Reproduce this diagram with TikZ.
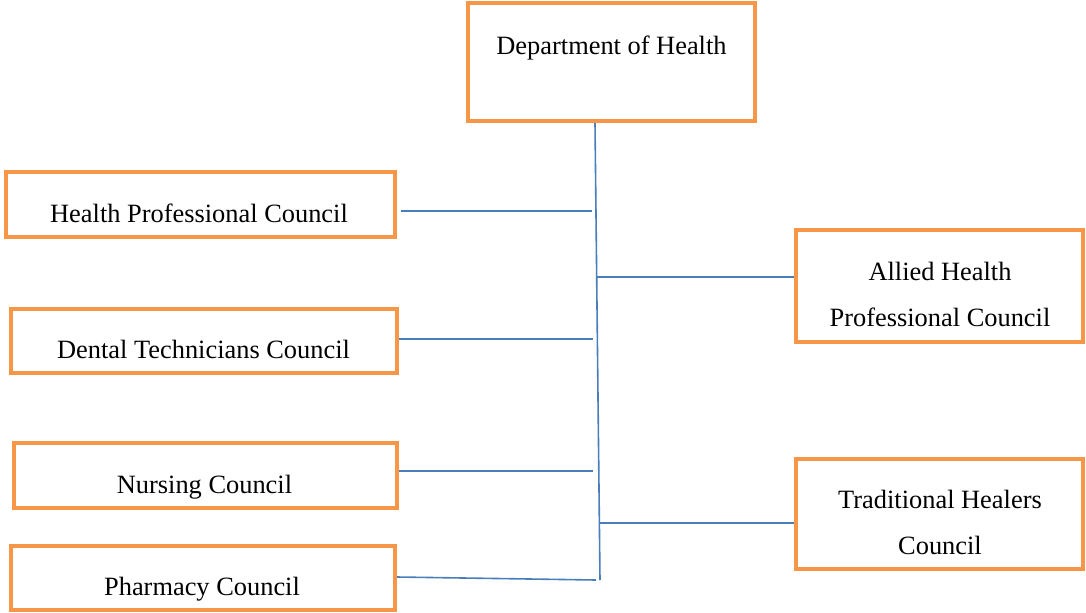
\documentclass[tikz,border=0pt]{standalone}
\usepackage{fontspec}
\setmainfont{Liberation Serif}
\usetikzlibrary{positioning}

\definecolor{boxorange}{HTML}{F79646}
\definecolor{linkblue}{HTML}{4A7EBB}

\begin{document}
\begin{tikzpicture}[x=0.75pt, y=-0.75pt,
    font=\fontsize{19.8}{34.5}\selectfont,
    box/.style 2 args={draw=boxorange, line width=3.2pt, fill=white,
        minimum width=#1*0.75pt, minimum height=#2*0.75pt, inner sep=0pt},
    lbl/.style={anchor=base, align=center, inner sep=0pt},
    link/.style={draw=linkblue, line width=1.2pt}]

    % page frame
    \useasboundingbox (0,0) rectangle (1086,612);

    % 1. Boxes
    \node[box={287}{118}] (doh) at (611.5,62) {};
    \node[box={389}{65}] (hpc) at (200.5,204.5) {};
    \node[box={386}{64}] (dtc) at (204,341) {};
    \node[box={383}{65}] (nur) at (205.5,475.5) {};
    \node[box={384}{64}] (pha) at (203,578) {};
    \node[box={287}{112}] (ahp) at (939.5,286) {};
    \node[box={287}{110}] (thc) at (939.5,514) {};

    % 2. Labels (base = last line)
    \node[lbl] (tdoh) at (611.5,54) {Department of Health};
    \node[lbl] (thpc) at (199,222) {Health Professional Council};
    \node[lbl] (tdtc) at (203.5,358) {Dental Technicians Council};
    \node[lbl] (tnur) at (204.5,493) {Nursing Council};
    \node[lbl] (tpha) at (202,595) {Pharmacy Council};
    \node[lbl] (tahp) at (940,326) {Allied Health\\Professional Council};
    \node[lbl] (tthc) at (940,554) {Traditional Healers\\Council};

    % 3. Trunk line
    \coordinate (top) at (595,123);
    \coordinate (bot) at (600,580);
    \draw[link] (top |- doh.south) -- (bot);

    % 4. Branches (left)
    \coordinate (jhpc) at (592,211);
    \coordinate (jdtc) at (593,339);
    \coordinate (jnur) at (593,471);
    \coordinate (jpha) at (596,580);
    \draw[link] ([xshift=3pt]hpc.east |- jhpc) -- (jhpc);
    \draw[link] (dtc.east |- jdtc) -- (jdtc);
    \draw[link] (nur.east |- jnur) -- (jnur);
    \draw[link] (pha.east |- 0,577) -- (jpha);

    % Branches (right)
    \coordinate (jahp) at (597,277);
    \coordinate (jthc) at (600,523);
    \draw[link] (jahp) -- (jahp -| ahp.west);
    \draw[link] (jthc) -- (jthc -| thc.west);

\end{tikzpicture}
\end{document}
